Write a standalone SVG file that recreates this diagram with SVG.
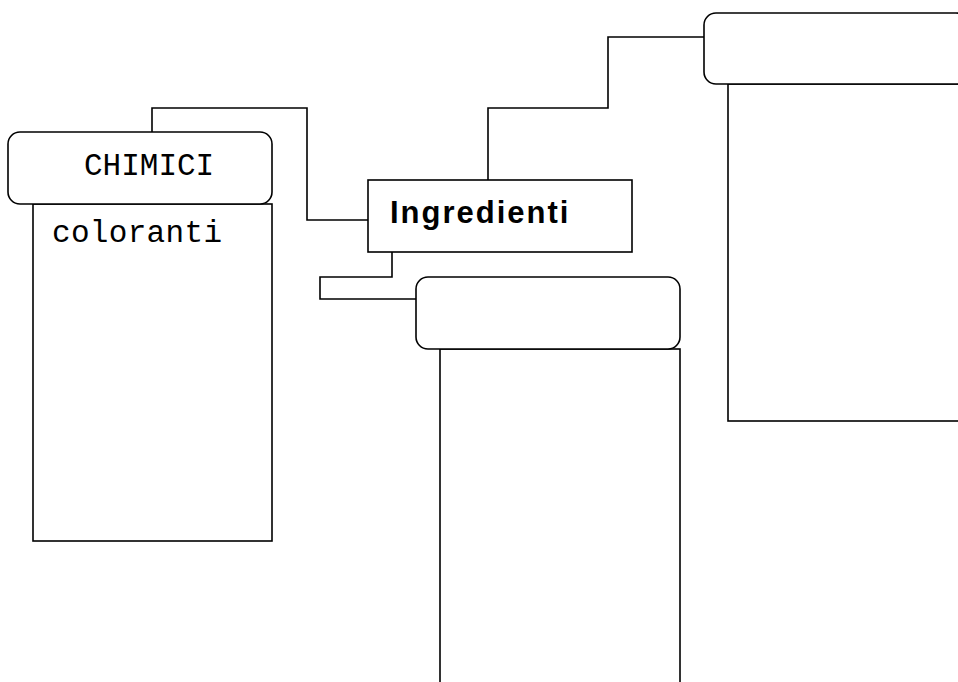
<svg xmlns="http://www.w3.org/2000/svg" width="958" height="682" viewBox="0 0 958 682">
<style>
.b{fill:#fff;stroke:#000;stroke-width:1.6}
.c{fill:none;stroke:#000;stroke-width:1.6}
.m{font-family:"Liberation Mono",monospace;font-size:31px;fill:#000}
.h{font-family:"Liberation Sans",Arial,sans-serif;font-size:31px;font-weight:bold;fill:#000;letter-spacing:2px}
</style>
<rect width="958" height="682" fill="#fff"/>
<g id="connectors">
<polyline class="c" points="152,132 152,108 307,108 307,220 368,220"/>
<polyline class="c" points="392,252 392,277 320,277 320,299 416,299"/>
<polyline class="c" points="488,180 488,108 608,108 608,37 704,37"/>
</g>
<g id="chimici">
<rect class="b" x="33" y="204" width="239" height="337"/>
<rect class="b" x="8" y="132" width="264" height="72" rx="12"/>
<text class="m" x="84" y="175">CHIMICI</text>
<text class="m" x="52" y="242" textLength="170">coloranti</text>
</g>
<g id="ingredienti">
<rect class="b" x="368" y="180" width="264" height="72"/>
<text class="h" x="390" y="223">Ingredienti</text>
</g>
<g id="middle">
<rect class="b" x="440" y="349" width="240" height="340"/>
<rect class="b" x="416" y="277" width="264" height="72" rx="12"/>
</g>
<g id="topright">
<rect class="b" x="728" y="84" width="240" height="337"/>
<rect class="b" x="704" y="13" width="264" height="71" rx="12"/>
</g>
</svg>
